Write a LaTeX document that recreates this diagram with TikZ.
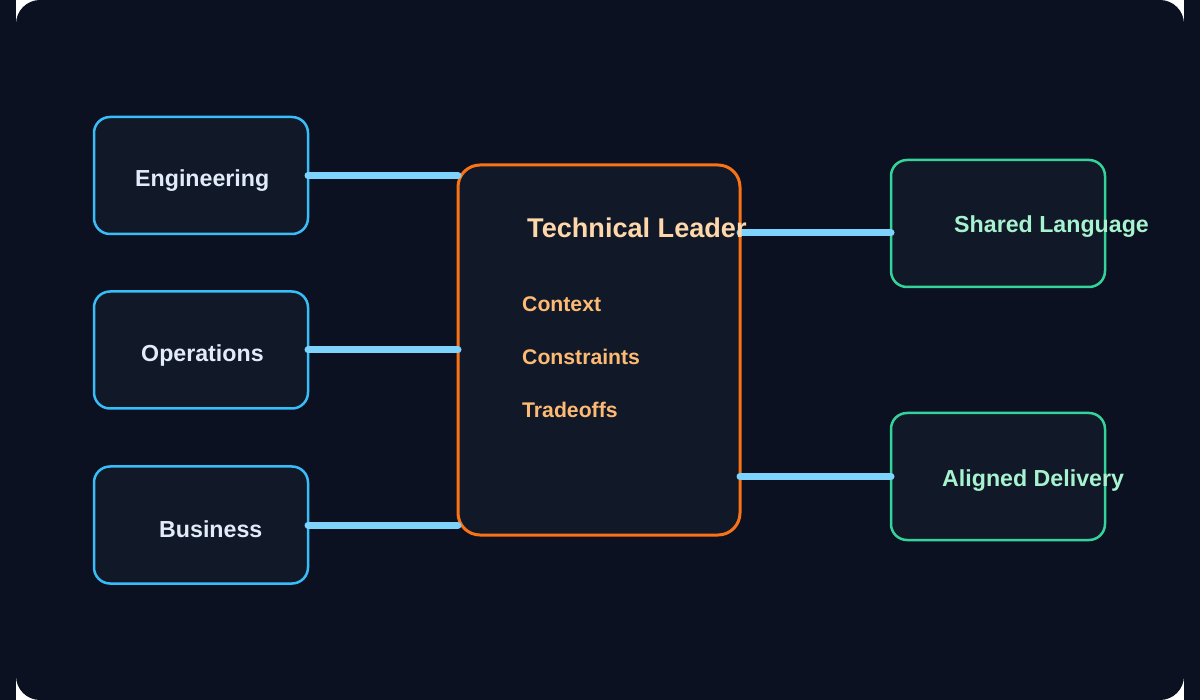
\documentclass[tikz,border=0pt]{standalone}
\usepackage{fontspec}
\setmainfont{Liberation Sans}
\usetikzlibrary{calc}
\definecolor{bgc}{RGB}{11,17,32}
\definecolor{boxc}{RGB}{17,24,39}
\definecolor{bluec}{RGB}{56,189,248}
\definecolor{linec}{RGB}{125,211,252}
\definecolor{orangec}{RGB}{249,115,22}
\definecolor{greenc}{RGB}{52,211,153}
\definecolor{lbltext}{RGB}{226,236,248}
\definecolor{titletext}{RGB}{254,215,170}
\definecolor{itemtext}{RGB}{253,186,116}
\definecolor{greentext}{RGB}{167,243,208}
\tikzset{
  sidebox/.style={draw=bluec, fill=boxc, line width=2.5pt, rounded corners=16pt, minimum width=214pt, minimum height=117pt, inner sep=0pt, outer sep=0pt},
  outbox/.style={draw=greenc, fill=boxc, line width=2.5pt, rounded corners=16pt, minimum width=214pt, minimum height=127pt, inner sep=0pt, outer sep=0pt},
  leadbox/.style={draw=orangec, fill=boxc, line width=3pt, rounded corners=22pt, minimum width=282pt, minimum height=370pt, inner sep=0pt, outer sep=0pt},
  conn/.style={draw=linec, line width=7pt, line cap=round},
  lbl/.style={anchor=base west, inner sep=0pt, text=lbltext, font=\fontsize{23.2}{26}\selectfont\bfseries},
  ttl/.style={anchor=base west, inner sep=0pt, text=titletext, font=\fontsize{27.1}{30}\selectfont\bfseries},
  itm/.style={anchor=base west, inner sep=0pt, text=itemtext, font=\fontsize{21.2}{24}\selectfont\bfseries},
  glbl/.style={anchor=base west, inner sep=0pt, text=greentext, font=\fontsize{23.2}{26}\selectfont\bfseries},
}
\begin{document}
\begin{tikzpicture}[x=1pt,y=-1pt]
\useasboundingbox (0,0) rectangle (1200,700);
\fill[bgc] (0,0) rectangle (1200,700);
\fill[white] (16,0) rectangle (1184,700);
\fill[bgc, rounded corners=24pt] (16,0) rectangle (1184,700);

\node[sidebox] (eng) at (201,175.5) {};
\node[sidebox] (ops) at (201,350) {};
\node[sidebox] (bus) at (201,525) {};
\node[leadbox] (lead) at (599,350) {};
\node[outbox] (shared) at (998,223.5) {};
\node[outbox] (aligned) at (998,476.5) {};

\draw[conn] (eng.east) -- (eng.east -| lead.west);
\draw[conn] (ops.east) -- (ops.east -| lead.west);
\draw[conn] (bus.east) -- (bus.east -| lead.west);
\coordinate (sy) at (0,233);
\draw[conn] (lead.east |- sy) -- (shared.west |- sy);
\draw[conn] (lead.east |- aligned.west) -- (aligned.west);

\node[lbl] (tEng) at (135,187) {Engineering};
\node[lbl] (tOps) at (141,362) {Operations};
\node[lbl] (tBus) at (159,537) {Business};
\node[ttl] (tLead) at (527,238) {Technical Leader};
\node[itm] (tCtx) at (522,312) {Context};
\node[itm] (tCon) at (522,365) {Constraints};
\node[itm] (tTrd) at (522,418) {Tradeoffs};
\node[glbl] (tSh) at (954,233) {Shared Language};
\node[glbl] (tAl) at (942,486) {Aligned Delivery};
\end{tikzpicture}
\end{document}
